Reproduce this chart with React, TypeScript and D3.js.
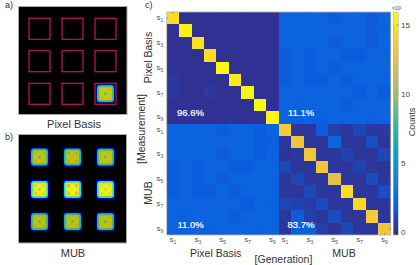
import React from 'react'
import * as d3 from 'd3'

const states = ['s1', 's2', 's3', 's4', 's5', 's6', 's7', 's8', 's9']
const tickIdx = [0, 2, 4, 6, 8, 9, 11, 13, 15, 17]

// counts x 10^4
const pixelPixel = [
  [14.6, 0, 0, 0, 0, 0, 0, 0, 0],
  [0, 15.5, 0, 0, 0, 0, 0, 0, 0],
  [0, 0, 14.8, 0, 0, 0, 0, 0, 0],
  [0, 0, 0, 14.6, 0, 0, 0, 0, 0],
  [0, 0, 0, 0, 15.8, 0, 0, 0, 0],
  [0.3, 0, 0, 0, 0, 15.1, 0, 0, 0],
  [0.3, 0, 0, 0.3, 0, 0, 15.8, 0, 0],
  [0, 0, 0, 0, 0, 0, 0, 15.8, 0],
  [0, 0, 0, 0, 0, 0, 0, 0, 15.8],
]
const pixelMub = [
  [2, 2, 2, 2, 1.6, 2, 2, 1.6, 2],
  [2, 2, 2, 2, 2, 2, 2, 1.6, 1.9],
  [2, 2, 2, 2, 1.6, 2, 2, 1.6, 2],
  [1.7, 2, 1.7, 2, 2, 1.7, 1.7, 2, 2],
  [1.7, 2, 1.7, 2, 1.6, 2, 2, 2, 2],
  [1.7, 2, 1.7, 1.7, 2, 1.7, 2, 2, 2],
  [2, 2, 2, 2, 2, 2, 1.7, 2, 1.7],
  [2, 1.9, 2, 2, 2, 1.7, 2, 2, 2],
  [2, 1.8, 2, 1.8, 2, 2, 2, 1.8, 2],
]
const mubPixel = [
  [2, 2, 2, 2, 1.7, 2, 2, 1.7, 2],
  [2, 2, 2, 2, 2, 2, 2, 1.7, 1.8],
  [2, 2, 2, 2, 1.6, 2, 2, 1.7, 2],
  [1.7, 2, 1.7, 2, 2, 1.7, 1.7, 2, 2],
  [1.7, 2, 1.7, 2, 1.6, 2, 2, 2, 2],
  [1.7, 2, 1.7, 1.7, 2, 1.7, 2, 2, 2],
  [2, 2, 2, 2, 2, 2, 1.7, 2, 1.8],
  [2, 1.8, 2, 2, 2, 1.7, 2, 2, 2],
  [2, 1.9, 2, 1.8, 2, 2, 2, 1.8, 2],
]
const mubMub = [
  [13.5, 0.2, 0.2, 1.7, 0.5, 0.2, 0.8, 0.3, 0.3],
  [0.2, 13.1, 0.2, 0.2, 2, 0.2, 0.2, 1.1, 0.2],
  [0.1, 0.2, 13.2, 0.2, 0.2, 0.7, 0.2, 0.2, 0.8],
  [0.8, 0.2, 0.2, 13.2, 0.2, 0.2, 0.7, 0.2, 0.1],
  [0.2, 0.8, 0.2, 0.2, 12.6, 0.2, 0.2, 1, 0.2],
  [0.2, 0.2, 0.9, 0.2, 0.2, 14.6, 0.2, 0.2, 1.1],
  [0.8, 0.7, 0.4, 1, 0.2, 0.2, 14.3, 0.2, 0.2],
  [0.2, 1.6, 0.5, 0.2, 1, 0.2, 0.2, 13.5, 0.2],
  [0.2, 1.8, 1.8, 0.5, 0.1, 0.8, 0.2, 0.2, 13.2],
]
const matrix = [
  ...pixelPixel.map((r, i) => [...r, ...pixelMub[i]]),
  ...mubPixel.map((r, i) => [...r, ...mubMub[i]]),
]

const blockLabels = ['96.6%', '11.1%', '11.0%', '83.7%']
const colorbarTicks = [0, 5, 10, 15]

// blob intensities: plateau centre and corner lobes of each spot
const mubCentre = [[.45, .53, .47], [.48, .56, .52], [.45, .45, .43]]
const mubLobe = [[.66, .7, .65], [.69, .75, .66], [.65, .66, .64]]
const blobEdge = [1, 1, 1, 1, 1, 1, .93, .76, .5, .17, 0]
const centreMask = [1, .7, .2, 0, 0, 0, 0, 0, 0, 0, 0]
const lobeMask = [0, 0, .2, .8, 1, .8, .3, 0, 0, 0, 0]
const plateau = 0.61

const parula = d3.scaleLinear<string>()
  .domain([0, .125, .25, .375, .5, .625, .75, .875, 1])
  .range(['#352a87', '#0b5fe0', '#1485d4', '#06a7c6', '#38b99e', '#92bf73', '#d9ba56', '#fcce2e', '#f9fb0e'])
const jet = d3.scaleLinear<string>()
  .domain([0, .06, .14, .32, .47, .6, .76, 1])
  .range(['#000000', '#00008f', '#0000ff', '#00ffff', '#50f060', '#f2f224', '#ffa020', '#ff0000'])

const font = '"Liberation Sans", Arial, sans-serif'

function Blob({ cx, cy, centre, lobe }: { cx: number, cy: number, centre: number, lobe: number }) {
  const cells = []
  for (let i = -10; i <= 10; i++) {
    for (let j = -10; j <= 10; j++) {
      const a = Math.abs(i), b = Math.abs(j)
      const v = blobEdge[a] * blobEdge[b] * (plateau
        + (centre - plateau) * centreMask[a] * centreMask[b]
        + (lobe - plateau) * lobeMask[a] * lobeMask[b])
      if (v <= 0) continue
      cells.push(<rect key={i + '_' + j} x={cx + i - .5} y={cy + j - .5} width={1.05} height={1.05} fill={jet(v)} />)
    }
  }
  return <g filter="url(#soft)">{cells}</g>
}

function StateLabel({ name, x, y }: { name: string, x: number, y: number }) {
  return (
    <text x={x} y={y} fontSize={8} fill="#555" textAnchor="middle" fontFamily={font}>
      {name[0]}<tspan fontSize={5} dy={2}>{name[1]}</tspan>
    </text>
  )
}

export default function App() {
  const idx = d3.range(18)
  const x = d3.scaleBand<number>().domain(idx).range([166.7, 390.7])
  const y = d3.scaleBand<number>().domain(idx).range([12, 235])
  const color = (v: number) => parula((v + .25) / 16.15)
  const barY = d3.scaleLinear().domain([0, 15]).range([231.7, 24.7])
  const barStops = d3.range(0, 1.001, 1 / 110)

  const cols = [0, 1, 2]
  const aX = d3.scaleBand<number>().domain(cols).range([23, 122])
  const aY = d3.scaleBand<number>().domain(cols).range([12.5, 110])
  const bX = d3.scaleBand<number>().domain(cols).range([23, 122])
  const bY = d3.scaleBand<number>().domain(cols).range([141, 238])

  return (
    <svg width={419} height={265} style={{ position: 'absolute', left: 0, top: 0, background: '#fff' }}>
      <defs>
        <filter id="soft" x="-20%" y="-20%" width="140%" height="140%">
          <feGaussianBlur stdDeviation={0.4} />
        </filter>
      </defs>

      {/* panel a */}
      <text x={5} y={8} fontSize={9} fill="#333" fontFamily={font}>a)</text>
      <rect x={18.5} y={6.5} width={108.5} height={108} fill="#000" stroke="#aaa" strokeWidth={1} />
      {cols.map(r => cols.map(c => (
        <rect key={r + '-' + c} x={aX(c)! + aX.bandwidth() / 2 - 10.5} y={aY(r)! + aY.bandwidth() / 2 - 10.5}
          width={21} height={21} fill="none" stroke="#d4166f" strokeWidth={1.1} />
      )))}
      <Blob cx={aX(2)! + aX.bandwidth() / 2} cy={aY(2)! + aY.bandwidth() / 2} centre={.45} lobe={.64} />
      <text x={74} y={128} fontSize={11} fill="#333" textAnchor="middle" fontFamily={font}>Pixel Basis</text>

      {/* panel b */}
      <text x={5} y={140} fontSize={9} fill="#333" fontFamily={font}>b)</text>
      <rect x={18.5} y={134.5} width={108} height={108.5} fill="#000" stroke="#aaa" strokeWidth={1} />
      {cols.map(r => cols.map(c => (
        <Blob key={r + '-' + c} cx={bX(c)! + bX.bandwidth() / 2} cy={bY(r)! + bY.bandwidth() / 2}
          centre={mubCentre[r][c]} lobe={mubLobe[r][c]} />
      )))}
      <text x={73} y={257} fontSize={11} fill="#333" textAnchor="middle" fontFamily={font}>MUB</text>

      {/* panel c */}
      <text x={145} y={8} fontSize={9} fill="#333" fontFamily={font}>c)</text>
      <g shapeRendering="crispEdges">
        {matrix.map((row, r) => row.map((v, c) => (
          <rect key={r + '-' + c} x={x(c)} y={y(r)} width={x.bandwidth() + .3} height={y.bandwidth() + .3} fill={color(v)} />
        )))}
      </g>
      <rect x={166.7} y={12} width={224} height={223} fill="none" stroke="#b5b5b5" strokeWidth={0.8} />
      {tickIdx.map(i => (
        <g key={i} stroke="#555" strokeWidth={0.5}>
          <line x1={x(i)! + x.bandwidth() / 2} x2={x(i)! + x.bandwidth() / 2} y1={12} y2={13.8} />
          <line x1={x(i)! + x.bandwidth() / 2} x2={x(i)! + x.bandwidth() / 2} y1={235} y2={233.2} />
          <line y1={y(i)! + y.bandwidth() / 2} y2={y(i)! + y.bandwidth() / 2} x1={166.7} x2={168.5} />
          <line y1={y(i)! + y.bandwidth() / 2} y2={y(i)! + y.bandwidth() / 2} x1={390.7} x2={388.9} />
        </g>
      ))}
      {tickIdx.map(i => {
        const name = states[i % 9]
        return (
          <g key={i}>
            <StateLabel name={name} x={160} y={y(i)! + y.bandwidth() / 2 + 2} />
            <StateLabel name={name} x={x(i)! + x.bandwidth() / 2} y={242} />
          </g>
        )
      })}
      {blockLabels.map((t, i) => (
        <text key={t} x={i % 2 ? 301 : 190.5} y={i < 2 ? 116 : 228} fontSize={9.5} fill="#fff" fontWeight={500}
          stroke="#fff" strokeWidth={0.2} textAnchor="middle" fontFamily={font}>{t}</text>
      ))}

      <text transform="translate(152,57.5) rotate(-90)" fontSize={10.5} fill="#333" textAnchor="middle" fontFamily={font}>Pixel Basis</text>
      <text transform="translate(152,193) rotate(-90)" fontSize={10.5} fill="#333" textAnchor="middle" fontFamily={font}>MUB</text>
      <text transform="translate(145,129) rotate(-90)" fontSize={10.5} fill="#333" textAnchor="middle" fontFamily={font}>[Measurement]</text>
      <text x={215.7} y={257} fontSize={10.5} fill="#333" textAnchor="middle" fontFamily={font}>Pixel Basis</text>
      <text x={344} y={257} fontSize={10.5} fill="#333" textAnchor="middle" fontFamily={font}>MUB</text>
      <text x={283.5} y={263} fontSize={10.5} fill="#333" textAnchor="middle" fontFamily={font}>[Generation]</text>

      {/* colorbar */}
      <g shapeRendering="crispEdges">
        {barStops.map((t, i) => (
          <rect key={i} x={393.3} y={235 - (i + 1) * (223 / barStops.length)} width={5}
            height={223 / barStops.length + .4} fill={parula(t)} />
        ))}
      </g>
      <rect x={393.3} y={12} width={5} height={223} fill="none" stroke="#b5b5b5" strokeWidth={0.6} />
      {colorbarTicks.map(t => (
        <g key={t}>
          <line x1={396.8} x2={398.3} y1={barY(t)} y2={barY(t)} stroke="#555" strokeWidth={0.5} />
          <text x={401} y={barY(t) + 3} fontSize={8} fill="#444" fontFamily={font}>{t}</text>
        </g>
      ))}
      <text x={392} y={10} fontSize={4.5} fill="#444" fontFamily={font}>×10<tspan fontSize={3} dy={-1.5}>4</tspan></text>
      <text transform="translate(415,122) rotate(-90)" fontSize={9} fill="#333" textAnchor="middle" fontFamily={font}>Counts</text>
    </svg>
  )
}
